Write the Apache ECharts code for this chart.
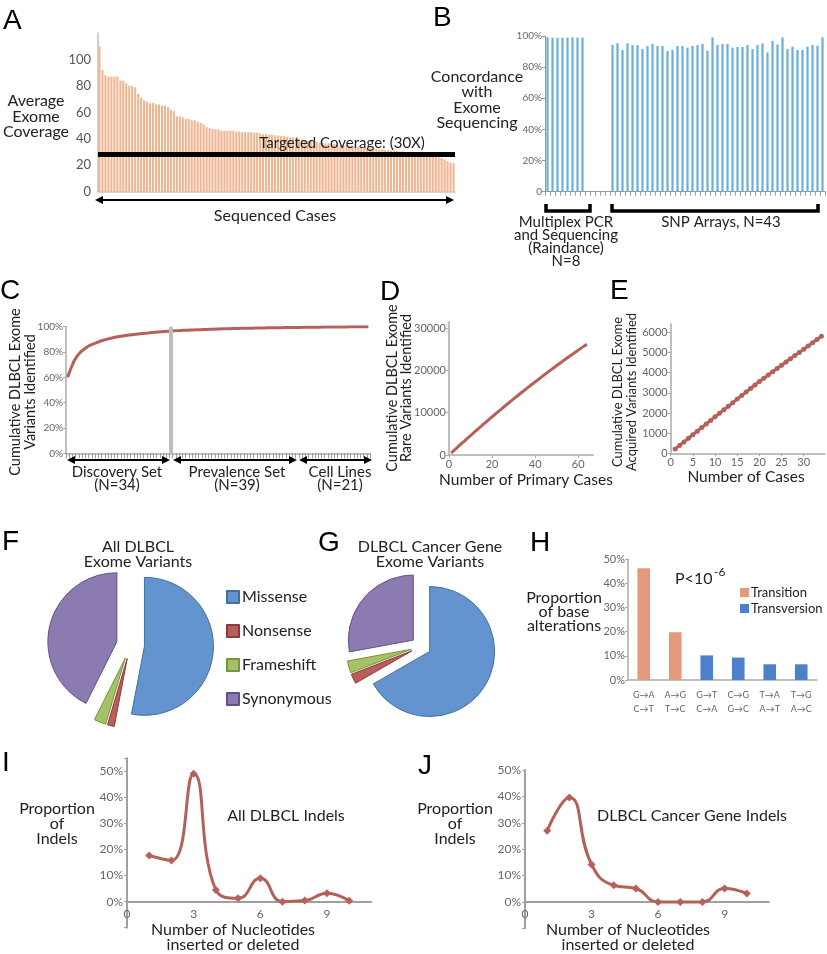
<!DOCTYPE html>
<html><head><meta charset="utf-8">
<script src="https://cdn.jsdelivr.net/npm/echarts@6/dist/echarts.min.js"></script>
<style>html,body{margin:0;padding:0;background:#fff}#c{width:827px;height:954px}</style>
</head><body><div id="c"></div>
<script>
// ---------- DATA ----------
const coverageA = [110, 92, 88, 87, 87, 87, 87, 84, 84, 82, 80, 80, 79, 74, 71, 69, 68, 67, 67, 66, 66, 65, 65, 64, 62, 61, 57, 57, 56, 55, 55, 54, 54, 53, 52, 51, 49, 48, 47.5, 47, 47, 46, 46, 46, 46,
 46, 45.5, 45.5, 45, 45, 45, 45, 44.5, 44.5,
 44, 43.5, 43.5, 43, 43, 42.5, 42.5, 42,
 42, 41.5, 41, 41, 40.5, 40,
 39.5, 39, 38.5, 38, 38, 37.5,
 37, 37, 36.5, 36.5, 36, 36, 35.5, 35.5, 35, 35, 34.5, 34.5, 34, 34, 33.5, 33.5,
 33, 33, 32.5, 32.5, 32, 32,
 31.5, 31.5, 31, 31, 31, 30.5, 30.5, 30, 30, 30, 29.5,
 29, 29, 28.5, 28.5, 28, 28,
 27, 26, 25.5, 24.5, 23, 22, 21.5];
const targetCoverage = 28;

const concordancePCR = [99.2, 99, 98.8, 98.8, 99, 99.2, 99, 98.9];
const concordanceGapCount = 5;
const concordanceSNP = [94.2, 95.3, 91, 95.3, 94.2, 94.2, 91.6, 93.6, 94.9, 93.6, 93.6, 90.4, 91, 93.6, 93.6, 92.5, 93.6, 94.2, 94.9, 90.6, 99.1, 94.2, 94.9, 94.9, 92.5, 92.9, 92.9, 94.2, 91.6, 94.2, 95.3, 89.5, 96.8, 94.6, 99.1, 91.6, 93.1, 91, 91, 93.1, 94.2, 93.8, 99.1];

const cumulativeC = [60, 67, 73, 77, 80, 82, 84, 85.5, 86.5, 87.5, 88.5, 89.3, 90, 90.7, 91.3, 91.8, 92.2, 92.6, 93, 93.4, 93.7, 94, 94.3, 94.6, 94.9, 95.1, 95.4, 95.6, 95.8, 96, 96.2, 96.4, 96.6, 96.8,
 96.9, 97.0, 97.1, 97.2, 97.3, 97.4, 97.5, 97.6, 97.7, 97.8, 97.9, 98.0, 98.1, 98.2, 98.3, 98.3, 98.4, 98.5, 98.5, 98.6, 98.7, 98.7, 98.8, 98.8, 98.9, 98.9, 99.0, 99.0, 99.1, 99.1, 99.2, 99.2, 99.2, 99.3, 99.3, 99.3, 99.4, 99.4, 99.4,
 99.5, 99.5, 99.5, 99.6, 99.6, 99.6, 99.7, 99.7, 99.7, 99.7, 99.8, 99.8, 99.8, 99.8, 99.9, 99.9, 99.9, 99.9, 100, 100, 100];
const dividerCase = '33';

const rareD = [470, 940, 1400, 1870, 2330, 2790, 3240, 3700, 4150, 4600, 5060, 5500, 5950, 6390, 6840, 7280, 7720, 8150, 8590, 9020, 9450, 9880, 10310, 10730, 11160, 11580, 12000, 12420, 12830, 13250, 13660, 14070, 14480, 14880, 15290, 15690, 16090, 16490, 16890, 17280, 17670, 18060, 18450, 18840, 19230, 19610, 19990, 20370, 20750, 21130, 21500, 21870, 22240, 22610, 22980, 23340, 23700, 24060, 24420, 24780, 25140, 25490, 25840, 26190];

const acquiredE = [210, 390, 565, 745, 920, 1100, 1275, 1455, 1630, 1808, 1985, 2160, 2335, 2510, 2690, 2865, 3040, 3215, 3390, 3567, 3727, 3887, 4047, 4207, 4367, 4527, 4687, 4847, 5007, 5167, 5327, 5487, 5647, 5803];

const pieNames = ['Missense', 'Nonsense', 'Frameshift', 'Synonymous'];
const pieAll = [53.0, 1.6, 2.8, 42.6];
const pieCancer = [66.7, 2.4, 3.0, 27.9];

const baseCats = ['G\u2192A\nC\u2192T', 'A\u2192G\nT\u2192C', 'G\u2192T\nC\u2192A', 'C\u2192G\nG\u2192C', 'T\u2192A\nA\u2192T', 'T\u2192G\nA\u2192C'];
const transitionH = [46.3, 19.8, '-', '-', '-', '-'];
const transversionH = ['-', '-', 10.2, 9.3, 6.5, 6.5];

const indelX = [1, 2, 3, 4, 5, 6, 7, 8, 9, 10];
const indelAll = [17.7, 15.8, 49.1, 4.5, 1.3, 9.0, 0, 0.4, 3.2, 0.3];
const indelCancer = [27, 39.6, 14.2, 6.3, 5.1, 0, 0, 0, 5.1, 3.2];

// ---------- STYLE ----------
const FONT = 'Lato, "Open Sans", sans-serif';
const TXT = '#222';
const TICK = '#666';
const AX = '#a6a6a6';
const LINE_RED = '#b6605a';
const PIE_COLORS = ['#6494cf', '#b95e5a', '#a6c267', '#8b7bb1'];
const PIE_BORDERS = ['#41709f', '#8a3b38', '#78933f', '#62508a'];

const casesA = coverageA.map((_, i) => String(i + 1));
const concordanceData = concordancePCR.concat(new Array(concordanceGapCount).fill('-'), concordanceSNP);
const catsB = concordanceData.map((_, i) => String(i + 1));
const casesC = cumulativeC.map((_, i) => String(i + 1));
const dataD = rareD.map((v, i) => [i + 1, v]);
const dataE = acquiredE.map((v, i) => [i + 1, v]);
const dataI = indelX.map((x, i) => [x, indelAll[i]]);
const dataJ = indelX.map((x, i) => [x, indelCancer[i]]);

function lab(size, extra) { return Object.assign({ fontSize: size, color: TICK, fontFamily: FONT }, extra || {}); }
function axLine(w, c) { return { show: true, onZero: false, lineStyle: { color: c || AX, width: w || 1.5 } }; }

// ---------- GRAPHIC HELPERS ----------
const G = [];
function T(x, y, text, size, o) {
  o = o || {};
  G.push({ type: 'text', x: x, y: y, z: 100, rotation: o.rot || 0, silent: true,
    style: { text: text, font: (o.weight || 'normal') + ' ' + size + 'px ' + (o.family || FONT), fill: o.fill || TXT,
      align: o.align || 'center', verticalAlign: 'middle' } });
}
function letter(x, y, t) { T(x, y, t, 28, { align: 'left', family: '"Liberation Sans", Arial, sans-serif', fill: '#000' }); }
function dArrow(x1, x2, y) {
  G.push({ type: 'line', z: 100, silent: true, shape: { x1: x1 + 4, y1: y, x2: x2 - 4, y2: y }, style: { stroke: '#000', lineWidth: 2 } });
  G.push({ type: 'polygon', z: 100, silent: true, shape: { points: [[x1, y], [x1 + 8, y - 4], [x1 + 8, y + 4]] }, style: { fill: '#000' } });
  G.push({ type: 'polygon', z: 100, silent: true, shape: { points: [[x2, y], [x2 - 8, y - 4], [x2 - 8, y + 4]] }, style: { fill: '#000' } });
}
function bracket(x1, x2, y) {
  G.push({ type: 'polyline', z: 100, silent: true, shape: { points: [[x1, y - 7], [x1, y], [x2, y], [x2, y - 7]] }, style: { stroke: '#000', lineWidth: 3.5, fill: null } });
}

// letters
letter(3, 21, 'A'); letter(433, 18, 'B'); letter(0, 291, 'C'); letter(380, 292, 'D'); letter(610, 291, 'E');
letter(2, 542, 'F'); letter(318, 543, 'G'); letter(530, 543, 'H'); letter(2, 763, 'I'); letter(418, 766, 'J');

// A
T(36, 101, 'Average', 16); T(36, 117, 'Exome', 16); T(36, 132, 'Coverage', 16);
T(342, 143, 'Targeted Coverage: (30X)', 15);
dArrow(95, 454, 200);
T(275, 216, 'Sequenced Cases', 16);
// B
T(477, 77, 'Concordance', 16); T(477, 92, 'with', 16); T(477, 108, 'Exome', 16); T(477, 123, 'Sequencing', 16);
bracket(546, 590, 211); bracket(612, 818, 211);
T(566, 222, 'Multiplex PCR', 15); T(566, 235.5, 'and Sequencing', 15); T(566, 248.5, '(Raindance)', 15); T(566, 261, 'N=8', 15);
T(721, 222, 'SNP Arrays, N=43', 15);
// C
T(15, 392, 'Cumulative DLBCL Exome', 14.5, { rot: Math.PI / 2 });
T(30, 392, 'Variants Identified', 14.5, { rot: Math.PI / 2 });
dArrow(67, 170, 460); dArrow(173, 297, 460); dArrow(299, 372, 460);
T(117, 472, 'Discovery Set', 15); T(117, 485, '(N=34)', 15);
T(237, 472, 'Prevalence Set', 15); T(237, 485, '(N=39)', 15);
T(340, 472, 'Cell Lines', 15); T(340, 485, '(N=21)', 15);
// D
T(392, 388, 'Cumulative DLBCL Exome', 14.5, { rot: Math.PI / 2 });
T(406, 388, 'Rare Variants Identified', 14.5, { rot: Math.PI / 2 });
T(526, 480, 'Number of Primary Cases', 15.5);
// E
T(618, 392, 'Cumulative DLBCL Exome', 13, { rot: Math.PI / 2 });
T(632, 392, 'Acquired Variants Identified', 13, { rot: Math.PI / 2 });
T(746, 477, 'Number of Cases', 15.5);
// F / G
T(138, 547, 'All DLBCL', 16); T(138, 562, 'Exome Variants', 16);
T(430, 547, 'DLBCL Cancer Gene', 16); T(430, 562, 'Exome Variants', 16);
// H
T(564, 598, 'Proportion', 16); T(564, 612, 'of base', 16); T(564, 625.5, 'alterations', 16);
T(675, 579, 'P<10', 16, { align: 'left' }); T(714, 572, '-6', 12, { align: 'left' });
// I
T(57, 809, 'Proportion', 16); T(57, 824, 'of', 16); T(57, 839, 'Indels', 16);
T(286, 816, 'All DLBCL Indels', 16);
T(233, 930, 'Number of Nucleotides', 16); T(233, 944.5, 'inserted or deleted', 16);
// J
T(455, 809, 'Proportion', 16); T(455, 824, 'of', 16); T(455, 839, 'Indels', 16);
T(692, 816, 'DLBCL Cancer Gene Indels', 16);
T(628, 930, 'Number of Nucleotides', 16); T(628, 944.5, 'inserted or deleted', 16);

// ---------- OPTION ----------
function grid(l, t, w, h) { return { left: l, top: t, width: w, height: h, outerBoundsMode: 'none', containLabel: false }; }
function pieData(vals) {
  return pieNames.map((n, i) => ({ name: n, value: vals[i], selected: true,
    itemStyle: { color: PIE_COLORS[i], borderColor: PIE_BORDERS[i], borderWidth: 1 } }));
}
const plain = v => String(v);
// I / J grids: y from -10 to max; x axis sits on 0
const hI = 169.4, hJ = 158.3;

const option = {
  animation: false,
  backgroundColor: '#fff',
  textStyle: { fontFamily: FONT },
  grid: [
    grid(98, 33, 357, 158.7),     // A
    grid(545, 36, 280, 155.7),    // B
    grid(66, 326.7, 304, 126.6),  // C
    grid(449, 321.7, 144.3, 133.3), // D
    grid(670.7, 324.3, 154.3, 129), // E
    grid(628, 559.3, 189, 120.7), // H
    grid(127, 758.3, 244.4, hI), // I
    grid(525, 770, 244, hJ)    // J
  ],
  xAxis: [
    { gridIndex: 0, type: 'category', data: casesA, axisLine: axLine(1.5, '#c8c8c8'), axisTick: { show: false }, axisLabel: { show: false } },
    { gridIndex: 1, type: 'category', data: catsB, axisLine: axLine(1, '#999'), axisTick: { show: true, interval: 0, length: 4, lineStyle: { color: '#999' } }, axisLabel: { show: false } },
    { gridIndex: 2, type: 'category', data: casesC, axisLine: axLine(1.5, '#aaa'), axisTick: { show: true, interval: 0, length: 5, lineStyle: { color: '#999' } }, axisLabel: { show: false } },
    { gridIndex: 3, type: 'value', min: 0, max: 67, interval: 20, splitLine: { show: false }, axisLine: axLine(1.5, '#aaa'), axisTick: { show: true, length: 3, lineStyle: { color: '#aaa' } }, axisLabel: lab(11, { showMaxLabel: false, margin: 4, formatter: plain }) },
    { gridIndex: 4, type: 'value', min: 0, max: 34.8, interval: 5, splitLine: { show: false }, axisLine: axLine(1.5, '#aaa'), axisTick: { show: true, length: 3, lineStyle: { color: '#aaa' } }, axisLabel: lab(11, { showMaxLabel: false, margin: 4, formatter: plain }) },
    { gridIndex: 5, type: 'category', data: baseCats, axisLine: axLine(1.5, '#aaa'), axisTick: { show: false }, axisLabel: lab(9, { lineHeight: 14, margin: 8, interval: 0 }) },
    { gridIndex: 6, type: 'value', min: 0, max: 11, interval: 3, offset: -hI * 10 / 65, splitLine: { show: false }, axisLine: axLine(2, '#a0a0a0'), axisTick: { show: false }, axisLabel: lab(12, { showMaxLabel: false, margin: 6, formatter: plain }) },
    { gridIndex: 7, type: 'value', min: 0, max: 11, interval: 3, offset: -hJ * 10 / 60, splitLine: { show: false }, axisLine: axLine(2, '#a0a0a0'), axisTick: { show: false }, axisLabel: lab(12, { showMaxLabel: false, margin: 6, formatter: plain }) }
  ],
  yAxis: [
    { gridIndex: 0, type: 'value', min: 0, max: 120, interval: 20, splitLine: { show: false }, axisLine: axLine(1.5, '#c0c0c0'), axisTick: { show: false }, axisLabel: lab(13, { color: '#555', margin: 7, formatter: v => v > 100 ? '' : String(v) }) },
    { gridIndex: 1, type: 'value', min: 0, max: 100, interval: 20, splitLine: { show: false }, axisLine: axLine(1, '#999'), axisTick: { show: true, length: 3, lineStyle: { color: '#999' } }, axisLabel: lab(10, { margin: 3, formatter: v => v === 0 ? '0' : v + '%' }) },
    { gridIndex: 2, type: 'value', min: 0, max: 100, interval: 20, splitLine: { show: false }, axisLine: axLine(1.5, '#aaa'), axisTick: { show: true, length: 3, lineStyle: { color: '#aaa' } }, axisLabel: lab(10, { margin: 3, formatter: v => v + '%' }) },
    { gridIndex: 3, type: 'value', min: 0, max: 31500, interval: 10000, splitLine: { show: false }, axisLine: axLine(1.5, '#aaa'), axisTick: { show: true, length: 3, lineStyle: { color: '#aaa' } }, axisLabel: lab(11, { showMaxLabel: false, margin: 3, formatter: plain }) },
    { gridIndex: 4, type: 'value', min: 0, max: 6400, interval: 1000, splitLine: { show: false }, axisLine: axLine(1.5, '#aaa'), axisTick: { show: true, length: 3, lineStyle: { color: '#aaa' } }, axisLabel: lab(11, { showMaxLabel: false, margin: 3, formatter: plain }) },
    { gridIndex: 5, type: 'value', min: 0, max: 50, interval: 10, splitLine: { show: false }, axisLine: axLine(1.5, '#aaa'), axisTick: { show: true, length: 3, lineStyle: { color: '#aaa' } }, axisLabel: lab(11, { margin: 3, formatter: v => v + '%' }) },
    { gridIndex: 6, type: 'value', min: -10, max: 55, interval: 10, splitLine: { show: false }, axisLine: axLine(2, '#a0a0a0'), axisTick: { show: true, length: 3, lineStyle: { color: '#a0a0a0' } }, axisLabel: lab(12, { margin: 4, formatter: v => (v < 0 || v > 50) ? '' : v + '%' }) },
    { gridIndex: 7, type: 'value', min: -10, max: 50, interval: 10, splitLine: { show: false }, axisLine: axLine(2, '#a0a0a0'), axisTick: { show: true, length: 3, lineStyle: { color: '#a0a0a0' } }, axisLabel: lab(12, { margin: 4, formatter: v => (v < 0) ? '' : v + '%' }) }
  ],
  legend: [
    { data: pieNames, orient: 'vertical', left: 221, top: 584, itemWidth: 12, itemHeight: 12, itemGap: 18, icon: 'rect', selectedMode: false,
      textStyle: { fontSize: 16, fontFamily: FONT, color: TXT, padding: [0, 0, 0, -2] } },
    { data: ['Transition', 'Transversion'], orient: 'vertical', left: 735, top: 581, itemWidth: 9, itemHeight: 9, itemGap: 3, icon: 'rect', selectedMode: false,
      textStyle: { fontSize: 13, fontFamily: FONT, color: TXT, padding: [0, 0, 0, -3] } }
  ],
  series: [
    { type: 'bar', name: 'Coverage', xAxisIndex: 0, yAxisIndex: 0, data: coverageA, barCategoryGap: '30%', itemStyle: { color: '#efb591' }, silent: true,
      markLine: { symbol: 'none', silent: true, label: { show: false }, lineStyle: { color: '#000', width: 5, type: 'solid' }, data: [{ yAxis: targetCoverage }] } },
    { type: 'bar', name: 'Concordance', xAxisIndex: 1, yAxisIndex: 1, data: concordanceData, barCategoryGap: '55%', itemStyle: { color: '#6cb0da' }, silent: true },
    { type: 'line', name: 'Cumulative', xAxisIndex: 2, yAxisIndex: 2, data: cumulativeC, showSymbol: false, lineStyle: { color: LINE_RED, width: 3 }, itemStyle: { color: LINE_RED }, silent: true,
      markLine: { symbol: 'none', silent: true, label: { show: false }, lineStyle: { color: '#bdbdbd', width: 4, type: 'solid' }, data: [{ xAxis: dividerCase }] } },
    { type: 'line', name: 'Rare', xAxisIndex: 3, yAxisIndex: 3, data: dataD, showSymbol: false, lineStyle: { color: LINE_RED, width: 3 }, itemStyle: { color: LINE_RED }, silent: true },
    { type: 'line', name: 'Acquired', xAxisIndex: 4, yAxisIndex: 4, data: dataE, showSymbol: true, symbol: 'circle', symbolSize: 5, lineStyle: { color: LINE_RED, width: 3 }, itemStyle: { color: LINE_RED }, silent: true },
    { type: 'pie', name: 'All', center: [130.5, 645], radius: 69, startAngle: 90, selectedMode: 'multiple', selectedOffset: 14, label: { show: false }, labelLine: { show: false }, silent: true, data: pieData(pieAll) },
    { type: 'pie', name: 'Cancer', center: [421, 646.5], radius: 65, startAngle: 90, selectedMode: 'multiple', selectedOffset: 10, label: { show: false }, labelLine: { show: false }, silent: true, data: pieData(pieCancer) },
    { type: 'bar', name: 'Transition', xAxisIndex: 5, yAxisIndex: 5, stack: 'h', data: transitionH, barCategoryGap: '60%', itemStyle: { color: '#e39a7c' }, silent: true },
    { type: 'bar', name: 'Transversion', xAxisIndex: 5, yAxisIndex: 5, stack: 'h', data: transversionH, barCategoryGap: '60%', itemStyle: { color: '#4d7fca' }, silent: true },
    { type: 'line', name: 'IndelAll', xAxisIndex: 6, yAxisIndex: 6, data: dataI, smooth: 0.5, symbol: 'diamond', symbolSize: 8, lineStyle: { color: LINE_RED, width: 3 }, itemStyle: { color: LINE_RED }, silent: true },
    { type: 'line', name: 'IndelCancer', xAxisIndex: 7, yAxisIndex: 7, data: dataJ, smooth: 0.5, symbol: 'diamond', symbolSize: 8, lineStyle: { color: LINE_RED, width: 3 }, itemStyle: { color: LINE_RED }, silent: true }
  ],
  graphic: { elements: G }
};

const chart = echarts.init(document.getElementById('c'), null, { renderer: 'canvas' });
chart.setOption(option);
</script>
</body></html>
